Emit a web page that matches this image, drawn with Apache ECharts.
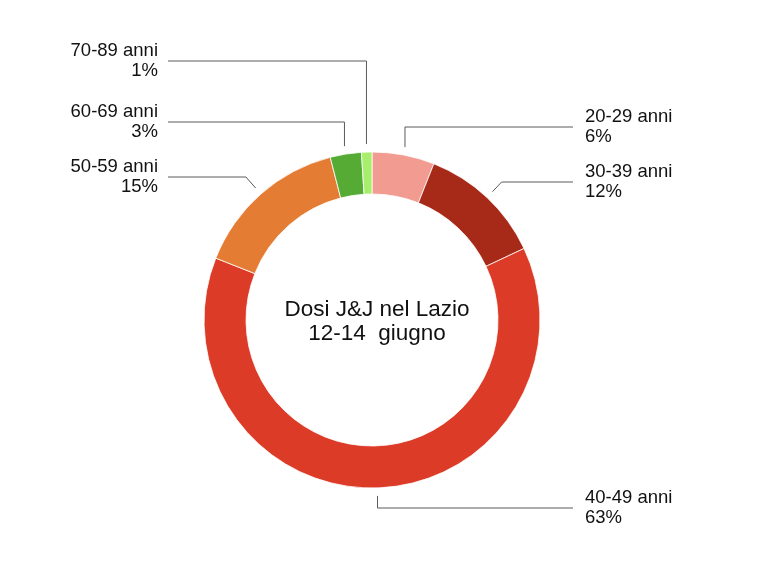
<!DOCTYPE html>
<html>
<head>
<meta charset="utf-8">
<script src="https://cdn.jsdelivr.net/npm/echarts@6/dist/echarts.min.js"></script>
<style>
html,body{margin:0;padding:0;background:#fff;}
#chart{width:767px;height:569px;}
</style>
</head>
<body>
<div id="chart"></div>
<script>
const categories = ['20-29 anni', '30-39 anni', '40-49 anni', '50-59 anni', '60-69 anni', '70-89 anni'];
const values = [6, 12, 63, 15, 3, 1];
const colors = ['#F29B90', '#A72A19', '#DC3B27', '#E57C34', '#56AB35', '#A6EE6B'];
const titleText = 'Dosi J&J nel Lazio\n12-14  giugno';

// label placement (layout only)
const CX = 372, CY = 320;
const labelSide = ['right', 'right', 'right', 'left', 'left', 'left'];
const labelY = [127, 182, 508, 177, 122, 61];
const RIGHT_LINE_END = 573, RIGHT_TEXT_X = 585;
const LEFT_LINE_END = 168, LEFT_TEXT_X = 158;

const chart = echarts.init(document.getElementById('chart'), null, {renderer: 'canvas'});

const data = categories.map((c, i) => ({name: c, value: values[i], itemStyle: {color: colors[i]}}));

chart.setOption({
  backgroundColor: '#ffffff',
  animation: false,
  title: {
    text: titleText,
    left: CX,
    top: 293,
    textAlign: 'center',
    textStyle: {
      fontFamily: 'Liberation Sans, Arial, sans-serif',
      fontSize: 22.5,
      fontWeight: 'normal',
      lineHeight: 24,
      color: '#111'
    }
  },
  series: [{
    type: 'pie',
    center: [CX, CY],
    radius: [126, 168],
    startAngle: 90,
    clockwise: true,
    avoidLabelOverlap: false,
    itemStyle: {borderColor: '#ffffff', borderWidth: 0.8},
    label: {
      show: true,
      position: 'outside',
      formatter: '{b}\n{c}%',
      fontFamily: 'Liberation Sans, Arial, sans-serif',
      fontSize: 18.5,
      lineHeight: 20,
      color: '#111'
    },
    labelLine: {
      show: true,
      length: 10,
      length2: 10,
      lineStyle: {color: '#5a5a5a', width: 1}
    },
    labelLayout: function (params) {
      const i = params.dataIndex;
      const pts = params.labelLinePoints;
      if (!pts) return {};
      const a = pts[0];
      let dx = a[0] - CX, dy = a[1] - CY;
      const len = Math.sqrt(dx * dx + dy * dy);
      dx /= len; dy /= len;
      const p0 = [a[0] + dx * 8, a[1] + dy * 8];
      const y = labelY[i];
      let p1;
      if (Math.abs(dx) < 0.3) {
        p1 = [p0[0], y];
      } else {
        const t = (y - p0[1]) / dy;
        p1 = [p0[0] + dx * t, y];
      }
      const right = labelSide[i] === 'right';
      const p2 = [right ? RIGHT_LINE_END : LEFT_LINE_END, y];
      return {
        x: right ? RIGHT_TEXT_X : LEFT_TEXT_X,
        y: y,
        align: right ? 'left' : 'right',
        verticalAlign: 'middle',
        labelLinePoints: [p0, p1, p2]
      };
    },
    data: data
  }]
});
</script>
</body>
</html>
